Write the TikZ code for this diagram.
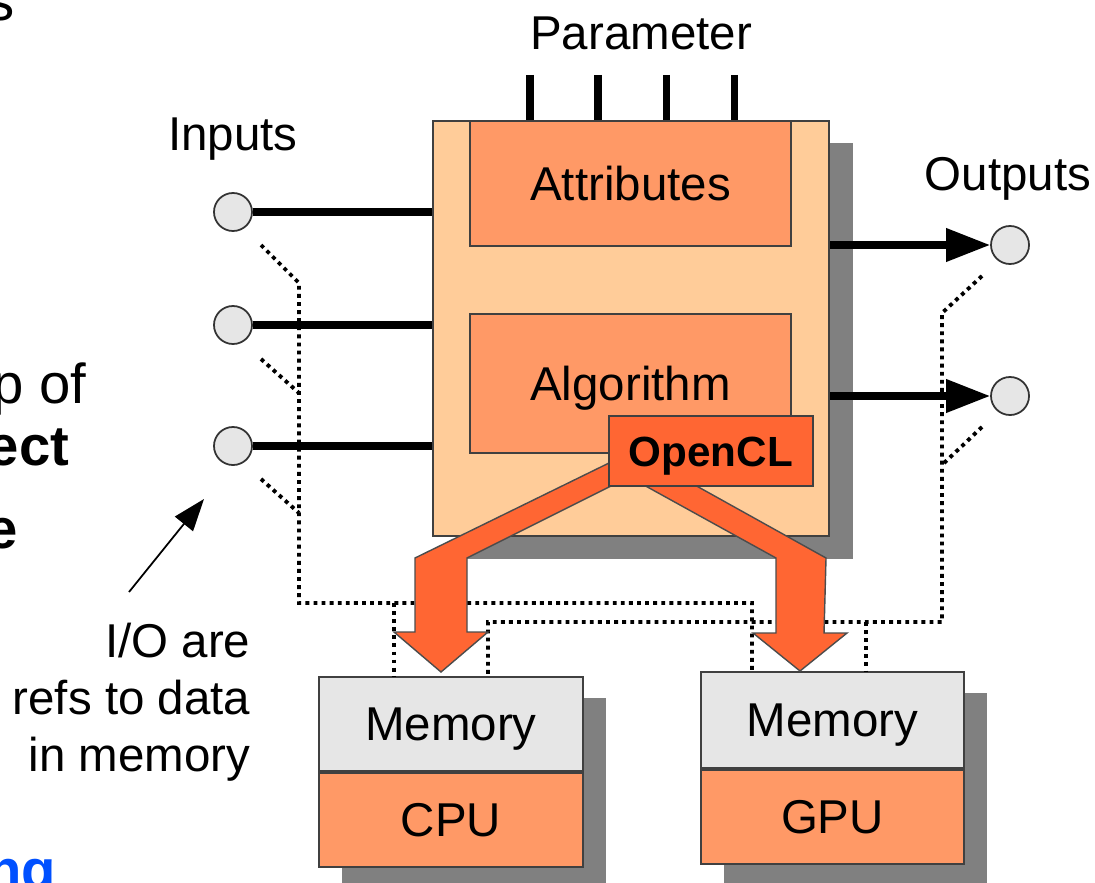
\documentclass[tikz,border=0pt]{standalone}
\usepackage{fontspec}
\setmainfont{Liberation Sans}
\usetikzlibrary{arrows.meta,positioning,shadows}

\definecolor{boxpeach}{HTML}{FFCC99}
\definecolor{boxorange}{HTML}{FF9966}
\definecolor{clorange}{HTML}{FF6633}
\definecolor{memgray}{HTML}{E6E6E6}
\definecolor{shadowgray}{HTML}{808080}
\definecolor{slideblue}{HTML}{0050FF}

\tikzset{
    lbl/.style={font=\fontsize{13.5}{16.2}\selectfont},
    slide/.style={font=\fontsize{16}{19}\selectfont, anchor=base east, inner sep=0pt},
    slidebold/.style={slide, font=\bfseries\fontsize{16}{19}\selectfont},
    block/.style={lbl, draw=black!75, line width=0.5pt, inner sep=0pt, anchor=north west,
        text height=9.7pt, text depth=0pt},
    shadowed/.style={drop shadow={shadow xshift=0.24cm, shadow yshift=-0.225cm,
        fill=shadowgray, opacity=1}},
    stackshadow/.style={fill=shadowgray, shift={(24,22)}},
    port/.style={circle, draw=black!80, line width=0.5pt, fill=memgray,
        minimum size=0.38cm, inner sep=0pt},
    iowire/.style={line width=2pt},
    outwire/.style={iowire, -{Triangle[length=0.44cm, width=0.32cm]}},
    refline/.style={line width=1.1pt, dash pattern=on 1.1pt off 1.2pt},
    fatarrow/.style={draw=black!70, line width=0.4pt, fill=clorange},
    notearrow/.style={line width=0.5pt, -{Triangle[length=0.32cm, width=0.23cm]}}
}

\begin{document}
\begin{tikzpicture}[x=0.01cm, y=-0.01cm]
    \useasboundingbox (0,0) rectangle (1095,882);

    % slide text cut off at the left
    \node[slide] (frag1) at (15,21) {s};
    \node[slide] (frag2) at (87,403) {p of};
    \node[slidebold] (frag3) at (70,465) {ect};
    \node[slidebold] (frag4) at (18,548) {e};
    \node[slidebold, text=slideblue] (frag5) at (57,889) {ng};

    % reference lines from the ports to the memories
    \coordinate (inbusA) at (299,283);
    \coordinate (inbusB) at (299,603);
    \coordinate (cpuA) at (394,603);
    \coordinate (gpuA) at (752,603);
    \coordinate (outbusA) at (942,313);
    \coordinate (outbusB) at (942,622);
    \coordinate (cpuB) at (488,622);
    \coordinate (gpuB) at (866,622);

    % filter block
    \node[block, shadowed, fill=boxpeach, minimum width=3.96cm, minimum height=4.15cm] (main) at (432,120) {};
    \node[block, fill=boxorange, minimum width=3.21cm, minimum height=1.25cm] (attr) at (469,120) {Attributes};
    \node[block, fill=boxorange, minimum width=3.21cm, minimum height=1.39cm] (algo) at (469,313) {Algorithm};

    % devices
    \fill[stackshadow] (318,676) rectangle (582,864);
    \fill[stackshadow] (700,671) rectangle (963,861);
    \node[block, fill=memgray, minimum width=2.64cm, minimum height=0.94cm] (cpumem) at (318,676) {Memory};
    \node[block, fill=boxorange, minimum width=2.64cm, minimum height=0.94cm,
        below=0pt of cpumem.south west, anchor=north west] (cpu) {CPU};
    \node[block, fill=memgray, minimum width=2.63cm, minimum height=0.96cm] (gpumem) at (700,671) {Memory};
    \node[block, fill=boxorange, minimum width=2.63cm, minimum height=0.94cm,
        below=0pt of gpumem.south west, anchor=north west] (gpu) {GPU};

    \draw[refline] (261,245) -- (inbusA) -- (inbusB) -- (gpuA) -- (gpuA |- gpumem.north);
    \draw[refline] (cpuA) -- (cpuA |- cpumem.north);
    \draw[refline] (982,276) -- (outbusA) -- (outbusB) -- (cpuB) -- (cpuB |- cpumem.north);
    \draw[refline] (gpuB) -- (gpuB |- gpumem.north);
    \foreach \y in {359,479}
        {
            \draw[refline] (261,\y) -- (299,\y+34);
        }
    \draw[refline] (982,427) -- (943,464);

    % parameters
    \foreach \x [count=\i] in {530,598,666,734}
        {
            \coordinate (pin\i) at (\x,75);
            \draw[iowire] (pin\i) -- (pin\i |- main.north);
        }
    \node[lbl, anchor=base] (param) at (641,50) {Parameter};

    % inputs
    \foreach \y [count=\i] in {212,325,446}
        {
            \node[port] (in\i) at (233,\y) {};
            \draw[iowire] (in\i) -- (in\i -| main.west);
        }
    \node[lbl, anchor=base] (inlbl) at (233,150) {Inputs};

    % outputs
    \foreach \y [count=\i] in {245,396}
        {
            \node[port] (out\i) at (1010,\y) {};
            \draw[outwire] (out\i -| main.east) -- (out\i);
        }
    \node[lbl, anchor=base] (outlbl) at (1008,190) {Outputs};

    % OpenCL dispatch
    \draw[fatarrow] (609,463) -- (415,558) -- (415,632) -- (394,632) -- (441,672)
        -- (488,632) -- (467,632) -- (467,558) -- (615,484) -- cycle;
    \draw[fatarrow] (642,484) -- (776,558) -- (776,633) -- (753,633) -- (800,671)
        -- (847,633) -- (824,633) -- (826,558) -- (693,484) -- cycle;
    \node[block, fill=clorange, font=\bfseries\fontsize{12}{14}\selectfont, text height=8.6pt,
        minimum width=2.04cm, minimum height=0.70cm] (ocl) at (608,415) {OpenCL};

    % note
    \node[lbl, align=right, anchor=north east, inner sep=0pt] (note) at (251,622) {I/O are\\refs to data\\in memory};
    \coordinate (notetail) at (129,592);
    \coordinate (notetip) at (204,499);
    \draw[notearrow] (notetail) -- (notetip);
\end{tikzpicture}
\end{document}
